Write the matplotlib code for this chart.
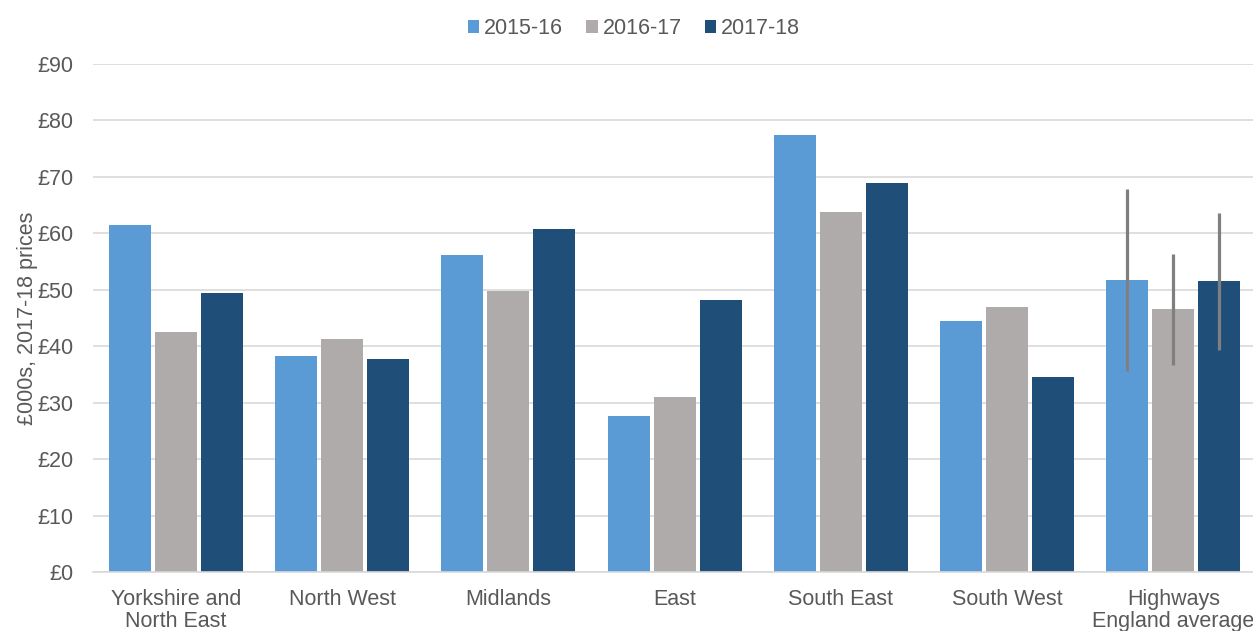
import matplotlib.pyplot as plt
import numpy as np

plt.rcParams['font.family'] = ['Liberation Sans', 'DejaVu Sans']

regions = ['Yorkshire and\nNorth East', 'North West', 'Midlands', 'East',
           'South East', 'South West', 'Highways\nEngland average']
years = ['2015-16', '2016-17', '2017-18']

v2015 = [61.4, 38.2, 56.1, 27.6, 77.4, 44.5, 51.7]
v2016 = [42.6, 41.2, 49.7, 31.0, 63.7, 47.0, 46.6]
v2017 = [49.5, 37.7, 60.8, 48.2, 69.0, 34.6, 51.6]

# error range, only on the England average group
err_low = [35.6, 36.7, 39.3]
err_high = [67.9, 56.3, 63.6]

colors = ['#5B9BD5', '#AFABAB', '#1F4E79']
text_col = '#595959'
grid_col = '#D9D9D9'
fs = 15.5

fig = plt.figure(figsize=(12.53, 6.31), dpi=100)
ax = fig.add_axes([0.0739, 0.0935, 0.929, 0.805])

x = np.arange(len(regions))
w = 0.2526
step = 0.2766
series = [v2015, v2016, v2017]
for i, vals in enumerate(series):
    ax.bar(x + (i - 1) * step, vals, width=w, color=colors[i], label=years[i], zorder=2)

# whiskers on the last group
last = len(regions) - 1
for i in range(3):
    xi = last + (i - 1) * step
    ax.plot([xi, xi], [err_low[i], err_high[i]], color='#7F7F7F', lw=2.3,
            solid_capstyle='butt', zorder=3)

ax.set_xlim(-0.5, len(regions) - 0.5)
ax.set_ylim(0, 90)
ax.set_yticks(range(0, 91, 10))
ax.set_yticklabels(['£%d' % t for t in range(0, 91, 10)])
ax.set_xticks(x)
ax.set_xticklabels(regions, linespacing=1.1)

ax.yaxis.grid(True, color=grid_col, lw=1.2, zorder=0)
ax.set_axisbelow(True)
for s in ['top', 'right', 'left']:
    ax.spines[s].set_visible(False)
ax.spines['bottom'].set_color(grid_col)
ax.spines['bottom'].set_linewidth(1.2)

ax.tick_params(axis='both', length=0, labelsize=fs, labelcolor=text_col)
ax.tick_params(axis='y', pad=14)
ax.tick_params(axis='x', pad=12)

ax.set_ylabel('£000s, 2017-18 prices', fontsize=fs, color=text_col)
ax.yaxis.set_label_coords(-0.047, 0.5)

fig.legend(loc='center', bbox_to_anchor=(0.506, 0.955), ncol=3, frameon=False,
           fontsize=fs, labelcolor=text_col, handlelength=0.52, handleheight=0.52,
           handletextpad=0.23, columnspacing=1.07)

fig.savefig('out.png', dpi=100)
